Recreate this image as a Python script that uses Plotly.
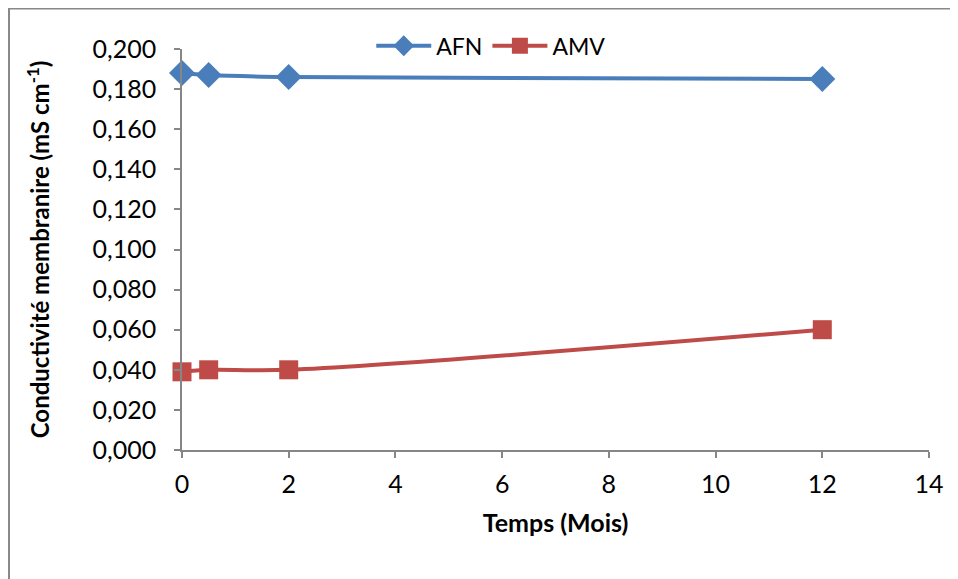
import plotly.graph_objects as go

temps = [0, 0.5, 2, 12]
afn = [0.188, 0.187, 0.186, 0.185]
amv = [0.039, 0.040, 0.040, 0.060]
x_ticks = [0, 2, 4, 6, 8, 10, 12, 14]
y_ticks = [0, 0.02, 0.04, 0.06, 0.08, 0.10, 0.12, 0.14, 0.16, 0.18, 0.20]

FONT = "Lato, 'Open Sans', sans-serif"
AXIS_COLOR = "#868686"

fig = go.Figure()
fig.add_trace(go.Scatter(
    x=temps, y=afn, name="AFN", mode="lines+markers",
    line=dict(color="#4A7EBB", width=4, shape="spline", smoothing=1),
    marker=dict(symbol="diamond", size=20, color="#4A7EBB"),
    cliponaxis=False,
))
fig.add_trace(go.Scatter(
    x=temps, y=amv, name="AMV", mode="lines+markers",
    line=dict(color="#BE4B48", width=4, shape="spline", smoothing=1),
    marker=dict(symbol="square", size=19, color="#BE4B48"),
    cliponaxis=False,
))

# page body has an 8px margin; figure spans x 8..958, y 8..579
W, H = 950, 571
L, R, T, B = 174, 29, 41, 129
pw, ph = W - L - R, H - T - B

fig.update_layout(
    width=W, height=H,
    margin=dict(l=L, r=R, t=T, b=B, autoexpand=False),
    paper_bgcolor="white", plot_bgcolor="white",
    separators=", ",
    font=dict(family=FONT, size=25, color="black"),
    showlegend=True,
    legend=dict(orientation="h", x=0.414, xanchor="center", y=1.008, yanchor="middle",
                font=dict(size=23), bgcolor="rgba(0,0,0,0)", itemwidth=55,
                tracegroupgap=0),
    xaxis=dict(
        range=[0, 14], tickvals=x_ticks, ticktext=[str(v) for v in x_ticks],
        showgrid=False, zeroline=False, showline=True, linecolor=AXIS_COLOR, linewidth=1.5,
        ticks="outside", ticklen=6, tickcolor=AXIS_COLOR, tickwidth=1.5,
        tickfont=dict(size=25), ticklabelstandoff=5,
        title=dict(text="<b>Temps (Mois)</b>", font=dict(size=25), standoff=18),
        automargin=False,
    ),
    yaxis=dict(
        range=[0, 0.2], tickvals=y_ticks, tickformat=".3f",
        showgrid=False, zeroline=False, showline=True, linecolor=AXIS_COLOR, linewidth=1.5,
        ticks="outside", ticklen=6, tickcolor=AXIS_COLOR, tickwidth=1.5,
        tickfont=dict(size=25), ticklabelstandoff=13,
        title=dict(text="<b>Conductivité membranire (mS cm<sup>-1</sup>)</b>", font=dict(size=24), standoff=36),
        automargin=False,
    ),
    shapes=[dict(type="rect", xref="paper", yref="paper",
                 x0=(1 - L) / pw, x1=(W + 10 - L) / pw,
                 y0=-(B + 10) / ph, y1=1 + (T - 0.5) / ph,
                 line=dict(color="#888888", width=2), fillcolor="rgba(0,0,0,0)", layer="below")],
)

fig.write_html("out.html")
